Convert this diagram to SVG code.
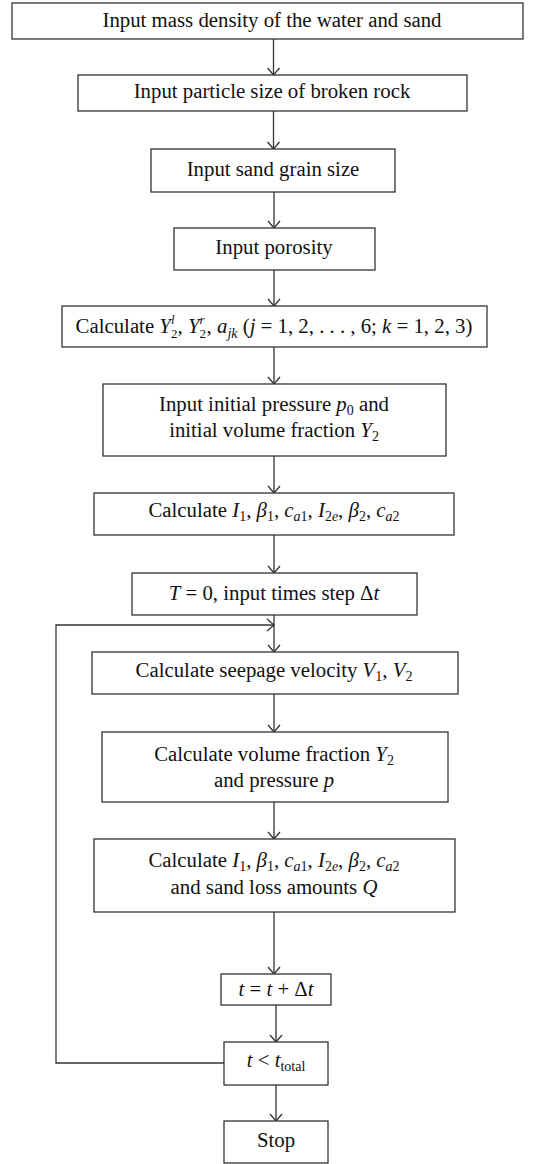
<svg xmlns="http://www.w3.org/2000/svg" width="533" height="1164" viewBox="0 0 533 1164">
<style>
rect{fill:#fff;stroke:#333;stroke-width:1.3}
text{font-family:"Liberation Serif","Times New Roman",serif;font-size:20.8px;fill:#111;text-anchor:middle}
.i{font-style:italic}
.s{font-size:14px}
.t{font-size:13px}
.c{fill:none;stroke:#333;stroke-width:1.3}
</style>
<defs>
<marker id="arr" markerUnits="userSpaceOnUse" markerWidth="16" markerHeight="16" viewBox="-8 -8 10 16" refX="0" refY="0" orient="auto" overflow="visible">
<path d="M-7,-6 L0,0 L-7,6" fill="none" stroke="#333" stroke-width="1.3"/>
</marker>
</defs>
<g id="connectors">
<line class="c" x1="273.5" y1="39" x2="273.5" y2="75" marker-end="url(#arr)"/>
<line class="c" x1="273.5" y1="111" x2="273.5" y2="149" marker-end="url(#arr)"/>
<line class="c" x1="274" y1="192" x2="274" y2="228" marker-end="url(#arr)"/>
<line class="c" x1="274" y1="270" x2="274" y2="306" marker-end="url(#arr)"/>
<line class="c" x1="274" y1="347" x2="274" y2="384" marker-end="url(#arr)"/>
<line class="c" x1="274" y1="456" x2="274" y2="493" marker-end="url(#arr)"/>
<line class="c" x1="274" y1="535" x2="274" y2="573" marker-end="url(#arr)"/>
<line class="c" x1="274" y1="615" x2="274" y2="652" marker-end="url(#arr)"/>
<path class="c" d="M224,1063 H56 V625 H274" marker-end="url(#arr)"/>
<line class="c" x1="274" y1="694" x2="274" y2="732" marker-end="url(#arr)"/>
<line class="c" x1="274" y1="802" x2="274" y2="839" marker-end="url(#arr)"/>
<line class="c" x1="274" y1="912" x2="274" y2="974" marker-end="url(#arr)"/>
<line class="c" x1="276" y1="1005" x2="276" y2="1042" marker-end="url(#arr)"/>
<line class="c" x1="276" y1="1085" x2="276" y2="1121" marker-end="url(#arr)"/>
</g>
<g id="n1"><rect x="12" y="3" width="511" height="36"/><text x="272" y="27">Input mass density of the water and sand</text></g>
<g id="n2"><rect x="78" y="75" width="389" height="36"/><text x="272" y="98">Input particle size of broken rock</text></g>
<g id="n3"><rect x="151" y="149" width="244" height="43"/><text x="273" y="176">Input sand grain size</text></g>
<g id="n4"><rect x="174" y="228" width="201" height="42"/><text x="274" y="254">Input porosity</text></g>
<g id="n5"><rect x="62" y="306" width="425" height="41"/><text x="274" y="333">Calculate <tspan class="i">Y</tspan><tspan class="t" dy="4.5">2</tspan><tspan class="t i" dx="-6.5" dy="-13.5">l</tspan><tspan dx="3" dy="9">, </tspan><tspan class="i">Y</tspan><tspan class="t" dy="4.5">2</tspan><tspan class="t i" dx="-6.5" dy="-13.5">r</tspan><tspan dx="2" dy="9">, </tspan><tspan class="i">a</tspan><tspan class="s i" dy="5">jk</tspan><tspan dy="-5"> (</tspan><tspan class="i">j</tspan> = 1, 2, . . . , 6; <tspan class="i">k</tspan> = 1, 2, 3)</text></g>
<g id="n6"><rect x="103" y="384" width="343" height="72"/><text x="274" y="410.5">Input initial pressure <tspan class="i">p</tspan><tspan class="s" dy="4">0</tspan><tspan dy="-4"> and</tspan></text><text x="274" y="436.5">initial volume fraction <tspan class="i">Y</tspan><tspan class="s" dy="4">2</tspan></text></g>
<g id="n7"><rect x="94" y="493" width="360" height="42"/><text x="274" y="517">Calculate <tspan class="i">I</tspan><tspan class="s" dy="4">1</tspan><tspan dy="-4">, </tspan><tspan class="i">β</tspan><tspan class="s" dy="4">1</tspan><tspan dy="-4">, </tspan><tspan class="i">c</tspan><tspan class="s" dy="4"><tspan class="i">a</tspan>1</tspan><tspan dy="-4">, </tspan><tspan class="i">I</tspan><tspan class="s" dy="4">2<tspan class="i">e</tspan></tspan><tspan dy="-4">, </tspan><tspan class="i">β</tspan><tspan class="s" dy="4">2</tspan><tspan dy="-4">, </tspan><tspan class="i">c</tspan><tspan class="s" dy="4"><tspan class="i">a</tspan>2</tspan></text></g>
<g id="n8"><rect x="132" y="573" width="285" height="42"/><text x="274" y="600"><tspan class="i">T</tspan> = 0, input times step Δ<tspan class="i">t</tspan></text></g>
<g id="n9"><rect x="92" y="652" width="366" height="42"/><text x="274" y="677">Calculate seepage velocity <tspan class="i">V</tspan><tspan class="s" dy="4">1</tspan><tspan dy="-4">, </tspan><tspan class="i">V</tspan><tspan class="s" dy="4">2</tspan></text></g>
<g id="n10"><rect x="102" y="732" width="346" height="70"/><text x="274" y="761">Calculate volume fraction <tspan class="i">Y</tspan><tspan class="s" dy="4">2</tspan></text><text x="274" y="787">and pressure <tspan class="i">p</tspan></text></g>
<g id="n11"><rect x="94" y="839" width="361" height="73"/><text x="274" y="867">Calculate <tspan class="i">I</tspan><tspan class="s" dy="4">1</tspan><tspan dy="-4">, </tspan><tspan class="i">β</tspan><tspan class="s" dy="4">1</tspan><tspan dy="-4">, </tspan><tspan class="i">c</tspan><tspan class="s" dy="4"><tspan class="i">a</tspan>1</tspan><tspan dy="-4">, </tspan><tspan class="i">I</tspan><tspan class="s" dy="4">2<tspan class="i">e</tspan></tspan><tspan dy="-4">, </tspan><tspan class="i">β</tspan><tspan class="s" dy="4">2</tspan><tspan dy="-4">, </tspan><tspan class="i">c</tspan><tspan class="s" dy="4"><tspan class="i">a</tspan>2</tspan></text><text x="274" y="894">and sand loss amounts <tspan class="i">Q</tspan></text></g>
<g id="n12"><rect x="221" y="974" width="110" height="31"/><text x="276" y="996"><tspan class="i">t</tspan> = <tspan class="i">t</tspan> + Δ<tspan class="i">t</tspan></text></g>
<g id="n13"><rect x="224" y="1042" width="104" height="43"/><text x="276" y="1067"><tspan class="i">t</tspan> &lt; <tspan class="i">t</tspan><tspan class="s" dy="4">total</tspan></text></g>
<g id="n14"><rect x="224" y="1121" width="104" height="42"/><text x="276" y="1147">Stop</text></g>
</svg>
